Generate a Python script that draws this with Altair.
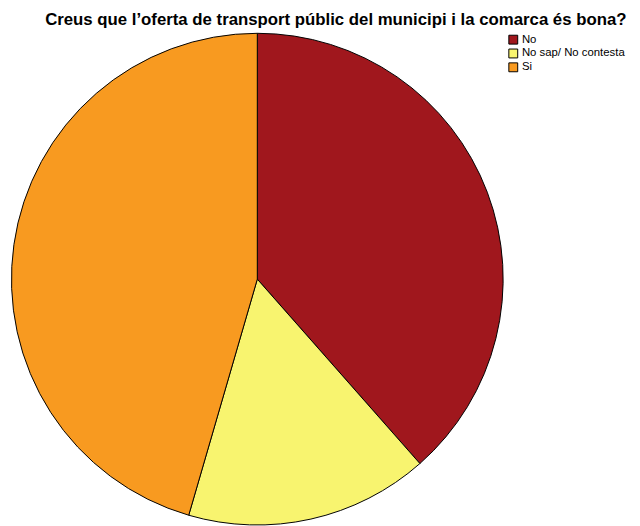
import altair as alt
import pandas as pd

categories = ["No", "No sap/ No contesta", "Si"]
values = [38.5, 16.0, 45.5]
colors = ["#A0171D", "#F8F46F", "#F89A20"]
order = [1, 2, 3]
title_text = "Creus que l\u2019oferta de transport públic del municipi i la comarca és bona?"

df = pd.DataFrame({"cat": categories, "val": values, "ord": order})

pie = alt.Chart(df).mark_arc(stroke="black", strokeWidth=1).encode(
    theta=alt.Theta("val:Q", stack=True),
    order=alt.Order("ord:Q"),
    color=alt.Color(
        "cat:N",
        scale=alt.Scale(domain=categories, range=colors),
        sort=categories,
        legend=alt.Legend(
            title=None,
            orient="none",
            legendX=506,
            legendY=23,
            symbolType="square",
            symbolSize=81,
            symbolStrokeColor="black",
            symbolStrokeWidth=1,
            labelFont="Liberation Sans",
            labelFontSize=11.5,
            labelColor="black",
            rowPadding=0,
            labelOffset=3,
        ),
    ),
    x=alt.value(252.5),
    y=alt.value(271.3),
    radius=alt.value(249),
)

title = alt.Chart(pd.DataFrame({"t": [title_text]})).mark_text(
    font="Liberation Sans",
    fontWeight="bold",
    fontSize=17,
    align="center",
    baseline="alphabetic",
    color="black",
).encode(
    text="t:N",
    x=alt.value(332),
    y=alt.value(14),
)

chart = alt.layer(pie, title).properties(
    width=632,
    height=518,
    autosize=alt.AutoSizeParams(type="none"),
    padding=0,
).configure_view(stroke=None)

chart.save("out.html", embed_options={"renderer": "svg", "actions": False})
